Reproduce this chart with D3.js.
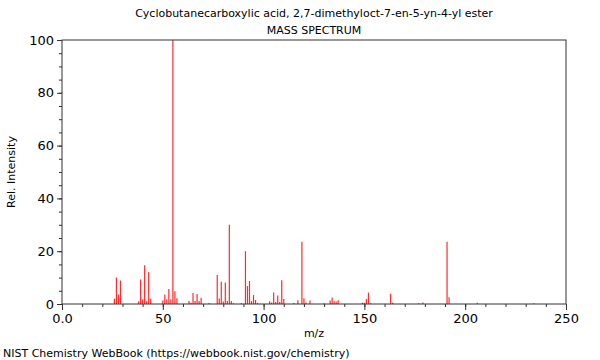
<!DOCTYPE html>
<html>
<head>
<meta charset="utf-8">
<script src="https://cdn.jsdelivr.net/npm/d3@7"></script>
<style>
  body { margin: 0; background: #fff; }
  text { font-family: "DejaVu Sans", sans-serif; fill: #000; }
</style>
</head>
<body>
<div id="chart"></div>
<script>
const title = "Cyclobutanecarboxylic acid, 2,7-dimethyloct-7-en-5-yn-4-yl ester";
const subtitle = "MASS SPECTRUM";
const footer = "NIST Chemistry WebBook (https://webbook.nist.gov/chemistry)";

// peaks
const mz = [26, 27, 28, 29, 38, 39, 40, 41, 42, 43, 44,
  50, 51, 52, 53, 54, 55, 56, 57, 63, 64, 65, 66, 67, 68, 69, 73,
  77, 78, 79, 80, 81, 82, 83, 84, 85, 89, 91, 92, 93, 94, 95, 96, 97,
  103, 104, 105, 106, 107, 108, 109, 110, 115, 117, 119, 120, 121, 123,
  130, 133, 134, 135, 136, 137, 149, 150, 151, 152, 153, 163, 164,
  177, 179, 191, 192, 206, 234];
const intensity = [2, 10, 3.6, 8.9, 1, 9.3, 1.7, 14.7, 1, 12, 2,
  1.3, 3.6, 1.8, 5.7, 1.8, 100, 4.8, 2.2, 1.1, 0.5, 4.2, 1.1, 3.8, 1.1, 2.4, 0.4,
  11, 2.1, 8.4, 0.9, 8.1, 1.1, 30, 1.1, 0.3, 0.3, 20, 6.8, 8.7, 1.1, 3.4, 1.5, 0.4,
  1, 0.6, 4.4, 0.8, 3.2, 0.8, 9, 1.9, 0.4, 1.4, 23.6, 2.2, 0.6, 1.3,
  0.3, 1.3, 2.5, 1, 0.9, 1.4, 0.5, 0.5, 1.9, 4.3, 0.3, 3.9, 0.5,
  0.3, 0.6, 23.6, 2.6, 0.5, 0.3];
const xTicks = [0, 50, 100, 150, 200, 250];
const xTickLabels = ["0.0", "50", "100", "150", "200", "250"];
const yTicks = [0, 20, 40, 60, 80, 100];
const yTickLabels = ["0", "20", "40", "60", "80", "100"];

const width = 600;
const height = 360;
const margin = { top: 40, right: 34, bottom: 56, left: 62 };

const svg = d3.select("#chart")
  .append("svg")
  .attr("width", width)
  .attr("height", height);

const x = d3.scaleLinear().domain([0, 250]).range([margin.left, width - margin.right]);
const y = d3.scaleLinear().domain([0, 100]).range([height - margin.bottom, margin.top]);

// peaks
svg.append("g")
  .selectAll("line")
  .data(mz.map((m, i) => ({ m: m, v: intensity[i] })))
  .enter()
  .append("line")
  .attr("x1", (d) => x(d.m))
  .attr("x2", (d) => x(d.m))
  .attr("y1", y(0))
  .attr("y2", (d) => y(d.v))
  .attr("stroke", "#ff2a2a")
  .attr("stroke-width", 1.2);

// frame
svg.append("rect")
  .attr("x", x(0))
  .attr("y", y(100))
  .attr("width", x(250) - x(0))
  .attr("height", y(0) - y(100))
  .attr("fill", "none")
  .attr("stroke", "#333")
  .attr("stroke-width", 1);

// axes: minor ticks first, then major with labels
const xMinor = svg.append("g")
  .attr("transform", `translate(0, ${y(0)})`)
  .call(d3.axisBottom(x).tickValues(d3.range(0, 251, 10)).tickSize(3).tickFormat(""));
const xAxis = svg.append("g")
  .attr("transform", `translate(0, ${y(0)})`)
  .call(d3.axisBottom(x).tickValues(xTicks).tickSize(6).tickPadding(4)
    .tickFormat((d, i) => xTickLabels[i]));
const yMinor = svg.append("g")
  .attr("transform", `translate(${x(0)}, 0)`)
  .call(d3.axisLeft(y).tickValues(d3.range(0, 101, 5)).tickSize(3).tickFormat(""));
const yAxis = svg.append("g")
  .attr("transform", `translate(${x(0)}, 0)`)
  .call(d3.axisLeft(y).tickValues(yTicks).tickSize(5).tickPadding(3)
    .tickFormat((d, i) => yTickLabels[i]));

[xMinor, xAxis, yMinor, yAxis].forEach((g) => {
  g.select(".domain").remove();
  g.selectAll(".tick line").attr("stroke", "#333");
  g.selectAll("text").style("font-size", "13px").style("font-family", "DejaVu Sans");
});

// titles
svg.append("text")
  .attr("x", (x(0) + x(250)) / 2)
  .attr("y", 17)
  .attr("text-anchor", "middle")
  .style("font-size", "11px")
  .text(title);
svg.append("text")
  .attr("x", (x(0) + x(250)) / 2)
  .attr("y", 34)
  .attr("text-anchor", "middle")
  .style("font-size", "11px")
  .text(subtitle);

svg.append("text")
  .attr("x", (x(0) + x(250)) / 2)
  .attr("y", 337)
  .attr("text-anchor", "middle")
  .style("font-size", "11px")
  .text("m/z");

svg.append("text")
  .attr("transform", `translate(15, ${(y(0) + y(100)) / 2}) rotate(-90)`)
  .attr("text-anchor", "middle")
  .style("font-size", "11px")
  .text("Rel. Intensity");

svg.append("text")
  .attr("x", 3)
  .attr("y", 357)
  .style("font-size", "11px")
  .text(footer);
</script>
</body>
</html>
